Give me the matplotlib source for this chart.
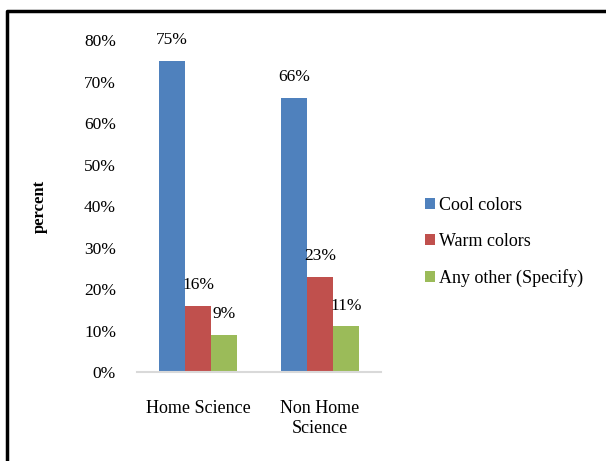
import matplotlib.pyplot as plt
import numpy as np
from matplotlib.lines import Line2D
from matplotlib.ticker import PercentFormatter

categories = ["Home Science", "Non Home\nScience"]
series = ["Cool colors", "Warm colors", "Any other (Specify)"]
values = [
    [75, 66],
    [16, 23],
    [9, 11],
]
colors = ["#4F81BD", "#C0504D", "#9BBB59"]

plt.rcParams['font.family'] = ['Liberation Serif', 'DejaVu Serif']

fig = plt.figure(figsize=(6.06, 4.61), dpi=100)
ax = fig.add_axes([0.226, 0.193, 0.403, 0.72])

x = np.arange(len(categories))
w = 0.212
for i, (name, vals) in enumerate(zip(series, values)):
    pos = x + (i - 1) * w
    bars = ax.bar(pos, vals, w, color=colors[i], label=name)
    for b, v in zip(bars, vals):
        ax.annotate(f"{v}%", (b.get_x() + b.get_width() / 2, v),
                    xytext=(0, 15), textcoords="offset points",
                    ha="center", va="center", fontsize=12.5)

ax.set_xlim(-0.5, 1.5)
ax.set_ylim(0, 80)
ax.set_yticks(range(0, 81, 10))
ax.yaxis.set_major_formatter(PercentFormatter(decimals=0))
ax.set_xticks(x)
ax.set_xticklabels(categories, fontsize=13, linespacing=1.25, va="top")
ax.tick_params(axis="y", length=0, pad=15, labelsize=12.5)
ax.tick_params(axis="x", length=0, pad=20)
for s in ["top", "right", "left"]:
    ax.spines[s].set_visible(False)
ax.spines["bottom"].set_color("#D9D9D9")
ax.spines["bottom"].set_linewidth(1.5)

ax.set_ylabel("percent", fontsize=12, fontweight="bold", labelpad=26)

fig.legend(loc="center left", bbox_to_anchor=(0.675, 0.475), frameon=False,
           fontsize=13, handlelength=0.55, handleheight=0.55, handletextpad=0.2,
           labelspacing=1.05)

# outer frame (top and left edges visible)
fig.add_artist(Line2D([0.012, 0.012, 1.0], [0.0, 0.976, 0.976],
                      transform=fig.transFigure, color="black", linewidth=2.5))

fig.savefig("out.png", dpi=100)
